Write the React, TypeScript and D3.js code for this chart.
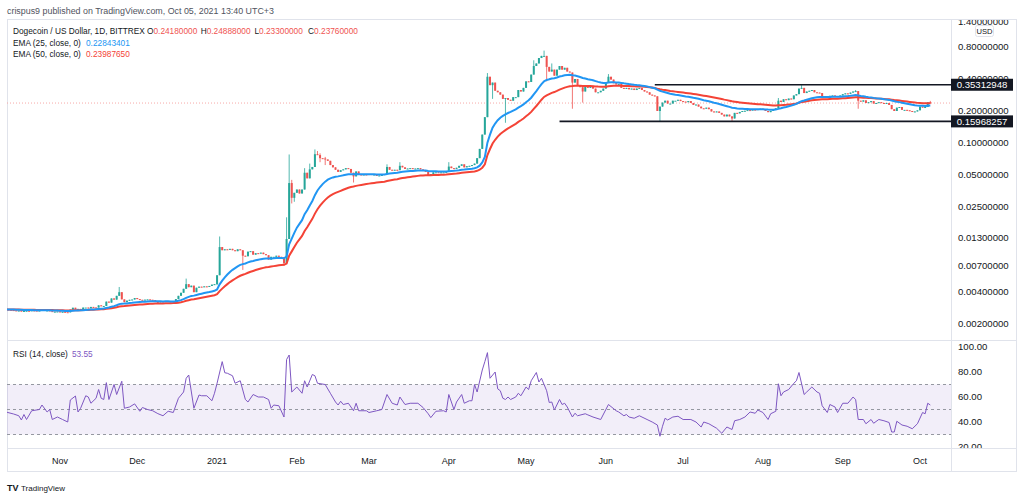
import React from 'react';
import * as d3 from 'd3';

// ---------- DATA ----------
const START = Date.UTC(2020, 9, 11); // first daily candle: 2020-10-11
const DAY = 86400000;

const closesOct2020 = [0.00272, 0.0027, 0.00268, 0.00266, 0.00264, 0.00265, 0.0026, 0.00263, 0.00264, 0.00263, 0.00266, 0.00265, 0.00264, 0.00265, 0.00269, 0.00265, 0.00266, 0.00262, 0.00258, 0.00259, 0.0026];
const closesNov2020 = [0.00257, 0.00258, 0.00256, 0.00255, 0.00271, 0.00282, 0.00272, 0.00275, 0.00271, 0.00283, 0.00283, 0.00279, 0.00287, 0.00284, 0.00283, 0.00297, 0.00292, 0.00293, 0.00322, 0.00315, 0.00345, 0.00336, 0.00365, 0.00395, 0.00338, 0.00318, 0.00329, 0.00335, 0.00337, 0.00348];
const closesDec2020 = [0.0034, 0.00335, 0.00334, 0.00336, 0.00338, 0.00335, 0.00333, 0.0032, 0.00318, 0.00323, 0.00322, 0.00326, 0.00324, 0.00318, 0.00322, 0.0034, 0.00365, 0.0039, 0.00425, 0.0047, 0.0044, 0.00455, 0.00395, 0.00435, 0.00445, 0.00442, 0.00448, 0.00443, 0.00452, 0.00465, 0.0047];
const closesJan2021 = [0.0057, 0.0105, 0.0098, 0.01, 0.0099, 0.0101, 0.0098, 0.0096, 0.01, 0.0098, 0.0087, 0.0086, 0.0095, 0.0096, 0.0089, 0.0092, 0.0091, 0.0093, 0.009, 0.0088, 0.008, 0.0085, 0.0085, 0.0087, 0.0085, 0.0084, 0.0074, 0.0125, 0.042, 0.0305, 0.034];
const closesFeb2021 = [0.0365, 0.0335, 0.0365, 0.0525, 0.0465, 0.0565, 0.0595, 0.0785, 0.077, 0.072, 0.0715, 0.07, 0.068, 0.062, 0.059, 0.056, 0.0535, 0.0555, 0.0565, 0.058, 0.057, 0.0525, 0.0485, 0.054, 0.0505, 0.05, 0.0505, 0.05];
const closesMar2021 = [0.051, 0.05, 0.0505, 0.049, 0.0495, 0.05, 0.051, 0.0595, 0.056, 0.0555, 0.056, 0.0555, 0.061, 0.059, 0.057, 0.0575, 0.058, 0.057, 0.0575, 0.058, 0.0565, 0.0545, 0.0535, 0.05, 0.051, 0.053, 0.053, 0.0525, 0.053, 0.053, 0.0535];
const closesApr2021 = [0.06, 0.058, 0.057, 0.0585, 0.061, 0.063, 0.059, 0.0605, 0.061, 0.062, 0.064, 0.072, 0.088, 0.12, 0.175, 0.42, 0.35, 0.37, 0.31, 0.3, 0.285, 0.26, 0.265, 0.255, 0.25, 0.27, 0.27, 0.315, 0.305, 0.33];
const closesMay2021 = [0.38, 0.375, 0.44, 0.53, 0.56, 0.63, 0.66, 0.66, 0.52, 0.47, 0.49, 0.43, 0.49, 0.53, 0.49, 0.51, 0.47, 0.46, 0.37, 0.4, 0.35, 0.335, 0.305, 0.35, 0.33, 0.345, 0.325, 0.3, 0.3, 0.31, 0.325];
const closesJun2021 = [0.37, 0.42, 0.395, 0.365, 0.355, 0.36, 0.33, 0.325, 0.33, 0.32, 0.325, 0.315, 0.325, 0.33, 0.315, 0.305, 0.3, 0.285, 0.28, 0.275, 0.2, 0.22, 0.24, 0.25, 0.235, 0.235, 0.25, 0.25, 0.255, 0.248];
const closesJul2021 = [0.245, 0.242, 0.248, 0.238, 0.228, 0.23, 0.22, 0.212, 0.21, 0.215, 0.208, 0.198, 0.195, 0.198, 0.192, 0.185, 0.178, 0.185, 0.178, 0.17, 0.192, 0.19, 0.196, 0.2, 0.201, 0.204, 0.203, 0.206, 0.205, 0.208, 0.21];
const closesAug2021 = [0.205, 0.2, 0.195, 0.2, 0.205, 0.212, 0.25, 0.243, 0.258, 0.253, 0.262, 0.258, 0.28, 0.288, 0.325, 0.33, 0.295, 0.305, 0.31, 0.315, 0.3, 0.298, 0.295, 0.27, 0.275, 0.265, 0.278, 0.28, 0.276, 0.272, 0.28];
const closesSep2021 = [0.288, 0.293, 0.29, 0.298, 0.305, 0.308, 0.25, 0.245, 0.252, 0.238, 0.242, 0.248, 0.235, 0.238, 0.242, 0.238, 0.233, 0.238, 0.228, 0.208, 0.2, 0.215, 0.218, 0.205, 0.205, 0.203, 0.2, 0.196, 0.198, 0.203];
const closesOct2021 = [0.22, 0.215, 0.218, 0.2418, 0.2376];
const firstOpen = 0.00274;

// notable wicks: day index (from 2020-10-11), high, low (0 = none)
const wickDays = [44, 70, 82, 83, 92, 108, 109, 110, 111, 112, 116, 118, 120, 121, 122, 124, 135, 148, 153, 172, 187, 189, 194, 205, 209, 210, 212, 220, 224, 234, 254, 282, 300, 309, 330, 331, 359];
const wickHighs = [0.00442, 0.0053, 0, 0.0132, 0, 0, 0.02, 0.078, 0.045, 0, 0.058, 0.064, 0.087, 0.084, 0.08, 0.074, 0, 0.063, 0.066, 0.066, 0.455, 0, 0, 0.6, 0.74, 0, 0.56, 0, 0, 0.445, 0, 0, 0.265, 0.35, 0.315, 0, 0.24888];
const wickLows = [0, 0, 0.0046, 0, 0.0064, 0.007, 0, 0.0125, 0.027, 0.028, 0, 0, 0, 0, 0.066, 0.062, 0.0425, 0, 0, 0, 0, 0.26, 0.155, 0, 0, 0.38, 0, 0.21, 0.24, 0, 0.158, 0.16, 0, 0, 0, 0.21, 0.233];

// RSI(14) readings: day index and value
const rsiDays = [0, 3, 5, 6, 7, 8, 10, 13, 14, 16, 17, 18, 20, 22, 24, 25, 27, 28, 29, 31, 32, 33, 35, 36, 37, 38, 39, 40, 42, 43, 45, 46, 48, 50, 52, 53, 55, 57, 59, 61, 63, 65, 67, 69, 70, 71, 73, 75, 76, 78, 80, 81, 82, 84, 85, 86, 88, 89, 91, 93, 94, 96, 98, 100, 102, 103, 104, 106, 108, 109, 110, 111, 113, 115, 116, 117, 119, 120, 121, 124, 126, 128, 129, 130, 131, 133, 135, 136, 137, 140, 141, 144, 146, 148, 150, 152, 153, 155, 157, 160, 162, 164, 165, 167, 170, 171, 172, 174, 175, 177, 178, 180, 181, 182, 183, 185, 186, 187, 188, 190, 191, 192, 193, 194, 195, 196, 198, 199, 200, 202, 203, 204, 206, 207, 208, 210, 211, 212, 213, 215, 216, 217, 218, 220, 221, 222, 225, 226, 228, 231, 234, 237, 238, 240, 241, 242, 244, 246, 249, 251, 253, 254, 255, 256, 257, 259, 261, 263, 266, 268, 270, 271, 273, 276, 278, 280, 282, 283, 285, 287, 289, 291, 292, 294, 296, 297, 299, 300, 301, 302, 304, 306, 307, 308, 310, 311, 313, 315, 316, 317, 319, 320, 322, 323, 325, 327, 329, 330, 331, 333, 334, 336, 337, 339, 341, 343, 344, 345, 346, 348, 350, 352, 354, 356, 357, 358, 359];
const rsiValues = [48, 46.4, 45, 41.6, 46, 42, 49, 50, 53.6, 48, 50, 42, 44, 42, 40, 57.6, 60.8, 48, 51, 61, 60, 55, 59, 66, 59, 58, 71.5, 58, 70, 62, 72.6, 51, 52, 54.5, 48.6, 51.6, 50, 49, 46.7, 45, 48.6, 47.6, 59, 64, 75, 77.6, 51, 61.6, 61, 61, 57, 63, 71, 88.3, 79.4, 79, 77, 71, 73, 58, 56, 62, 60, 60, 58, 51, 53.6, 53, 44, 90, 93.6, 64, 68, 63, 73, 68, 78, 77, 71, 70, 63, 56, 53.6, 56.6, 54, 55, 49, 55, 49, 49, 47.6, 49, 50, 62, 55, 53.6, 60, 54, 55, 55, 51.6, 46.6, 43.5, 48.6, 49, 48, 62, 50, 56, 62, 55, 57, 57, 70, 64, 81.6, 88.3, 95.5, 75, 80, 66.5, 65, 59, 58, 60, 58, 60, 63, 61, 68, 66, 73, 79.6, 72, 75, 65, 55.6, 56, 49.6, 58, 54, 55, 52, 44, 47, 45, 46.6, 45.7, 44, 42, 54, 49, 48, 45, 46, 44, 43, 45, 42, 40, 37.6, 28.6, 36.6, 43, 41.6, 44, 44.6, 42, 42, 40, 36, 40, 38.6, 35, 31, 36, 34, 41, 42, 44, 48, 47, 49.6, 47.6, 42, 46.6, 48.6, 70.6, 61, 64, 66, 71, 73, 79.6, 62, 64, 68, 64, 63, 53, 47.6, 54, 52, 47.6, 55, 55, 60, 58, 42, 42, 38.6, 42, 39, 42, 41, 39.6, 32, 32, 40.6, 37.6, 36.6, 34.6, 38.6, 47.6, 46.6, 55, 53.6];

const priceTicks = [1.4, 0.8, 0.4, 0.2, 0.1, 0.05, 0.025, 0.013, 0.007, 0.004, 0.002];
const rsiTicks = [100, 80, 60, 40, 20];
const rsiLevels = [70, 50, 30];
const monthTicks = ['2020-11-01', '2020-12-01', '2021-01-01', '2021-02-01', '2021-03-01', '2021-04-01', '2021-05-01', '2021-06-01', '2021-07-01', '2021-08-01', '2021-09-01', '2021-10-01'];

const resistanceLevel = 0.35312948;
const resistanceStartDay = 252;
const supportLevel = 0.15968257;
const supportStartDay = 215;
const lastPrice = 0.2376;

const ohlcLabels = ['O', 'H', 'L', 'C'];
const ohlcValues = ['0.24180000', '0.24888000', '0.23300000', '0.23760000'];
const ema25Label = '0.22843401';
const ema50Label = '0.23987650';
const rsiLabel = '53.55';

// ---------- HELPERS ----------
function ema(values: number[], n: number): number[] {
  const k = 2 / (n + 1);
  let prev = values[0];
  return values.map((v, i) => {
    if (i === 0) return prev;
    prev = v * k + prev * (1 - k);
    return prev;
  });
}

const FONT = "'Liberation Sans', Arial, sans-serif";
const UP = '#26a69a';
const DOWN = '#ef5350';

export default function App() {
  const closes = [
    ...closesOct2020, ...closesNov2020, ...closesDec2020, ...closesJan2021, ...closesFeb2021,
    ...closesMar2021, ...closesApr2021, ...closesMay2021, ...closesJun2021, ...closesJul2021,
    ...closesAug2021, ...closesSep2021, ...closesOct2021,
  ];
  const opens = closes.map((c, i) => (i === 0 ? firstOpen : closes[i - 1]));
  const highs = closes.map((c, i) => Math.max(c, opens[i]));
  const lows = closes.map((c, i) => Math.min(c, opens[i]));
  wickDays.forEach((d, k) => {
    if (wickHighs[k]) highs[d] = Math.max(highs[d], wickHighs[k]);
    if (wickLows[k]) lows[d] = Math.min(lows[d], wickLows[k]);
  });
  const dateOf = (i: number) => new Date(START + i * DAY);

  // layout
  const L = 7, R = 951, FR = 1017;
  const mainTop = 20, mainBottom = 340, rsiTop = 341, rsiBottom = 448, axisBottom = 472;

  const x = d3.scaleUtc()
    .domain([new Date(Date.UTC(2020, 10, 1)), new Date(Date.UTC(2021, 9, 1))])
    .range([60, 920]);
  const y = d3.scaleLog().domain([0.002, 0.8]).range([323.6, 47]);
  const yr = d3.scaleLinear().domain([20, 100]).range([447, 347]);

  const ema25 = ema(closes, 25);
  const ema50 = ema(closes, 50);
  const lineGen = d3.line<number>().x((_, i) => x(dateOf(i))).y((v) => y(v));
  const rsiLine = d3.line<number>().x((d) => x(dateOf(d))).y((_, i) => yr(rsiValues[i]));

  const bw = 2;
  const fmtPrice = d3.format('.8f');
  const fmtRsi = d3.format('.2f');
  const parse = d3.utcParse('%Y-%m-%d');

  return (
    <svg width={1024} height={496} style={{ position: 'absolute', left: 0, top: 0, background: '#fff' }} fontFamily={FONT}>
      <defs>
        <clipPath id="mainClip"><rect x={L} y={mainTop} width={R - L} height={mainBottom - mainTop} /></clipPath>
        <clipPath id="rsiClip"><rect x={L} y={rsiTop} width={R - L} height={rsiBottom - rsiTop} /></clipPath>
        <clipPath id="pAxisClip"><rect x={R} y={mainTop} width={FR - R} height={mainBottom - mainTop} /></clipPath>
        <clipPath id="rAxisClip"><rect x={R} y={rsiTop} width={FR - R} height={rsiBottom - rsiTop} /></clipPath>
      </defs>
      <rect x={0} y={0} width={1024} height={496} fill="#fff" />

      {/* header */}
      <text x={7} y={14} fontSize={8.9} fill="#50535e">crispus9 published on TradingView.com, Oct 05, 2021 13:40 UTC+3</text>

      {/* frame */}
      <rect x={L + 0.5} y={mainTop - 0.5} width={FR - L - 1} height={axisBottom - mainTop} fill="none" stroke="#e0e3eb" strokeWidth={1} />
      <line x1={R + 0.5} x2={R + 0.5} y1={mainTop} y2={axisBottom} stroke="#e0e3eb" />
      <line x1={L} x2={FR} y1={mainBottom + 0.5} y2={mainBottom + 0.5} stroke="#e0e3eb" />
      <line x1={L} x2={FR} y1={rsiBottom + 0.5} y2={rsiBottom + 0.5} stroke="#e0e3eb" />

      {/* main pane */}
      <g clipPath="url(#mainClip)">
        <line x1={L} x2={R} y1={y(lastPrice)} y2={y(lastPrice)} stroke="#f7a9a8" strokeWidth={1} strokeDasharray="1,2" />
        {closes.map((c, i) => {
          const o = opens[i];
          const col = c >= o ? UP : DOWN;
          const cx = x(dateOf(i));
          const top = y(Math.max(o, c));
          const bot = y(Math.min(o, c));
          return (
            <g key={i}>
              <line x1={cx} x2={cx} y1={y(highs[i])} y2={y(lows[i])} stroke={col} strokeWidth={0.8} />
              <rect x={cx - bw / 2} y={top} width={bw} height={Math.max(1, bot - top)} fill={col} />
            </g>
          );
        })}
        <path d={lineGen(ema50) || ''} fill="none" stroke="#f44336" strokeWidth={2} />
        <path d={lineGen(ema25) || ''} fill="none" stroke="#2196f3" strokeWidth={2} />
        <line x1={x(dateOf(resistanceStartDay))} x2={R} y1={y(resistanceLevel)} y2={y(resistanceLevel)} stroke="#131722" strokeWidth={1.6} />
        <line x1={x(dateOf(supportStartDay))} x2={R} y1={y(supportLevel)} y2={y(supportLevel)} stroke="#131722" strokeWidth={1.6} />
      </g>

      {/* legend main */}
      <g fontSize={8.3} fill="#131722">
        <text x={13} y={34}>Dogecoin / US Dollar, 1D, BITTREX</text>
        {ohlcLabels.map((lab, k) => (
          <text key={lab} x={147 + k * 53.7} y={34}>
            <tspan fill="#131722">{lab}</tspan>
            <tspan fill="#ef5350">{ohlcValues[k]}</tspan>
          </text>
        ))}
        <text x={13} y={46}>EMA (25, close, 0)</text>
        <text x={86} y={46} fill="#2196f3">{ema25Label}</text>
        <text x={13} y={57}>EMA (50, close, 0)</text>
        <text x={86} y={57} fill="#f44336">{ema50Label}</text>
      </g>

      {/* price axis */}
      <g clipPath="url(#pAxisClip)" fontSize={9.6} fill="#131722">
        {priceTicks.map((t) => (
          <text key={t} x={958} y={y(t)} dy="0.35em">{fmtPrice(t)}</text>
        ))}
      </g>
      <rect x={975.5} y={25.5} width={18} height={11} rx={2} fill="#fff" stroke="#e0e3eb" />
      <text x={984.5} y={34} fontSize={7.6} textAnchor="middle" fill="#131722">USD</text>
      {[resistanceLevel, supportLevel].map((lv) => (
        <g key={lv}>
          <rect x={R} y={y(lv) - 6} width={62} height={12} fill="#131722" />
          <text x={R + 31} y={y(lv)} dy="0.35em" fontSize={9.6} textAnchor="middle" fill="#fff">{fmtPrice(lv)}</text>
        </g>
      ))}

      {/* RSI pane */}
      <g clipPath="url(#rsiClip)">
        <rect x={L} y={yr(70)} width={R - L} height={yr(30) - yr(70)} fill="#7e57c2" fillOpacity={0.1} />
        {rsiLevels.map((lv) => (
          <line key={lv} x1={L} x2={R} y1={yr(lv)} y2={yr(lv)} stroke="#9598a1" strokeWidth={1} strokeDasharray="3,3" />
        ))}
        <path d={rsiLine(rsiDays) || ''} fill="none" stroke="#7e57c2" strokeWidth={1} />
      </g>
      <text x={13} y={357} fontSize={8.3} fill="#131722">RSI (14, close)
        <tspan fill="#7e57c2" dx={4}>{rsiLabel}</tspan>
      </text>
      <g clipPath="url(#rAxisClip)" fontSize={9.6} fill="#131722">
        {rsiTicks.map((t) => (
          <text key={t} x={958} y={yr(t)} dy="0.35em">{fmtRsi(t)}</text>
        ))}
      </g>

      {/* time axis */}
      <g fontSize={9} fill="#131722">
        {monthTicks.map((m) => {
          const d = parse(m) as Date;
          const label = d.getUTCMonth() === 0 ? d3.utcFormat('%Y')(d) : d3.utcFormat('%b')(d);
          return <text key={m} x={x(d)} y={464} textAnchor="middle">{label}</text>;
        })}
      </g>

      {/* footer */}
      <text x={7} y={491} fontSize={9} fontWeight="bold" fill="#131722">TV</text>
      <text x={21} y={491} fontSize={8} fill="#131722">TradingView</text>
    </svg>
  );
}
